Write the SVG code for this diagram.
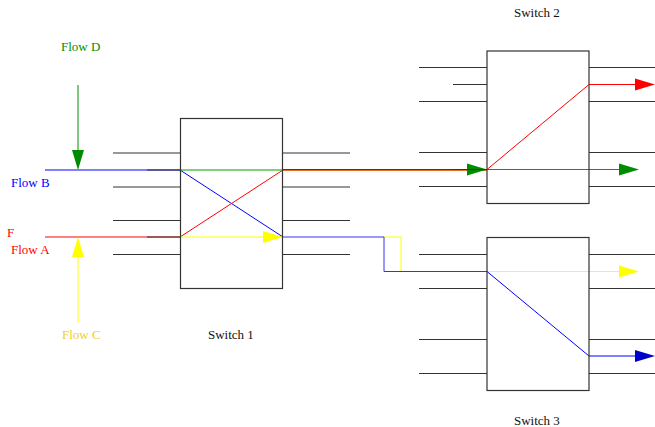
<svg xmlns="http://www.w3.org/2000/svg" width="655" height="427" viewBox="0 0 655 427">
<style>
.box{fill:none;stroke:#333;stroke-width:1.2}
.port{stroke:#333;stroke-width:1.2;fill:none}
.lbl{font-family:"Liberation Serif",serif;font-size:13px}
.f{fill:none;stroke-width:1}
</style>
<defs>
<polygon id="ahR" points="0,0 -20,-6 -20,6"/>
</defs>
<rect width="655" height="427" fill="#fff"/>
<g id="flows">
<!-- Flow B -->
<path class="f" stroke="#0000ff" d="M45,170 H180 L283,237"/>
<!-- Flow A -->
<path class="f" stroke="#ff0000" d="M45,237 H180 L283,170"/>
<!-- Flow D vertical -->
<line class="f" stroke="#009000" x1="78" y1="85" x2="78" y2="155"/>
<use href="#ahR" fill="#008c00" transform="translate(78,170) rotate(90)"/>
<!-- Flow C vertical -->
<line class="f" stroke="#ffff00" x1="78" y1="323" x2="78" y2="252"/>
<use href="#ahR" fill="#ffff00" transform="translate(78,237) rotate(-90)"/>
<!-- inside switch 1 -->
<line class="f" stroke="#00a000" x1="180" y1="170" x2="283" y2="170"/>
<line class="f" stroke="#ffff00" x1="180" y1="237" x2="265" y2="237"/>
<use href="#ahR" fill="#ffff00" transform="translate(283,237)"/>
<!-- switch1 to switch2 -->
<line class="f" stroke="#e07020" x1="283" y1="170.5" x2="487" y2="170.5"/>
<line class="f" stroke="#cc0000" x1="283" y1="169.5" x2="487" y2="169.5"/>
<!-- switch1 to switch3 -->
<path class="f" stroke="#ffff00" d="M384,237 H401 V271.5 H487"/>
<path class="f" stroke="#3333ee" d="M283,237 H384 V271.5 H487"/>
<!-- switch 2 internals -->
<use href="#ahR" fill="#008c00" transform="translate(487,169.5)"/>
<path class="f" stroke="#ff0000" d="M487,169.5 L589,84.5 H640"/>
<use href="#ahR" fill="#ff0000" transform="translate(655,84.5)"/>
<line class="f" stroke="#00a000" x1="487" y1="169.5" x2="622" y2="169.5"/>
<use href="#ahR" fill="#008c00" transform="translate(639,169.5)"/>
<!-- switch 3 internals -->
<line class="f" stroke="#ffff00" x1="487" y1="271.5" x2="622" y2="271.5"/>
<use href="#ahR" fill="#ffff00" transform="translate(639,271.5)"/>
<path class="f" stroke="#0000ff" d="M487,271.5 L589,356 H640"/>
<use href="#ahR" fill="#0000cc" transform="translate(655,356)"/>
</g>
<g id="switch1">
<rect class="box" x="180.5" y="118.5" width="102" height="170"/>
<path class="port" d="M113,153 H180 M147,170 H180 M113,187 H180 M113,220.5 H180 M147,237 H180 M113,254.5 H180 M283,153 H350 M283,187 H350 M283,220.5 H350 M283,254.5 H350"/>
<text class="lbl" x="208" y="339" fill="#111">Switch 1</text>
</g>
<g id="switch2">
<rect class="box" x="487" y="51" width="102" height="152.5"/>
<path class="port" d="M419,67.5 H487 M453,84.5 H487 M419,101.5 H487 M419,152.5 H487 M453,169.5 H487 M419,186.5 H487 M589,67.5 H655 M589,101.5 H655 M589,152.5 H655 M589,186.5 H655"/>
<text class="lbl" x="514" y="17" fill="#111">Switch 2</text>
</g>
<g id="switch3">
<rect class="box" x="487" y="237.5" width="102" height="153"/>
<path class="port" d="M419,254.5 H487 M419,288.5 H487 M419,339.5 H487 M419,373.5 H487 M589,254.5 H655 M589,288.5 H655 M589,339.5 H655 M589,373.5 H655"/>
<text class="lbl" x="514" y="425" fill="#111">Switch 3</text>
</g>
<g id="labels">
<text class="lbl" x="61" y="51" fill="#009000">Flow D</text>
<text class="lbl" x="11" y="187" fill="#0000ff">Flow B</text>
<text class="lbl" x="7" y="237" fill="#ff0000">F</text>
<text class="lbl" x="11" y="254" fill="#ff0000">Flow A</text>
<text class="lbl" x="62" y="339" fill="#f2cf1f">Flow C</text>
</g>
</svg>
